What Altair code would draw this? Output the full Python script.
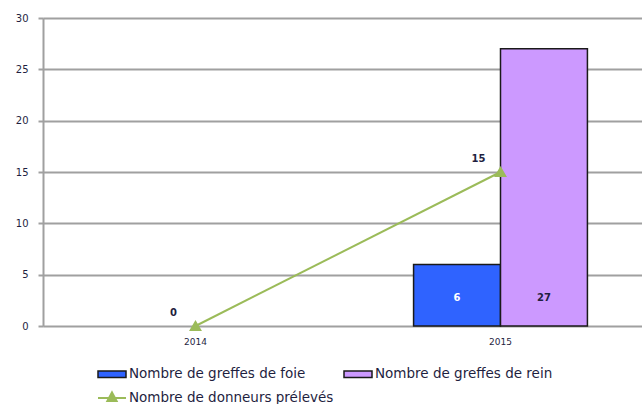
import altair as alt
import pandas as pd

years = ["2014", "2015"]
serie_foie = "Nombre de greffes de foie"
serie_rein = "Nombre de greffes de rein"
serie_donneurs = "Nombre de donneurs prélevés"
foie = [None, 6]
rein = [None, 27]
donneurs = [0, 15]
y_ticks = [0, 5, 10, 15, 20, 25, 30]

c_foie = "#2F63FF"
c_rein = "#CC99FF"
c_line = "#9BBB59"
c_text = "#1F1F3F"
font = "DejaVu Sans"

rows = []
for i, yr in enumerate(years):
    if foie[i] is not None:
        rows.append({"year": yr, "serie": serie_foie, "value": foie[i], "base": 0})
    if rein[i] is not None:
        rows.append({"year": yr, "serie": serie_rein, "value": rein[i], "base": 0})
bars_df = pd.DataFrame(rows)
line_df = pd.DataFrame({"year": years, "serie": serie_donneurs, "value": donneurs})

x_scale = alt.Scale(domain=years, range=[0, 610], paddingInner=0.43, paddingOuter=0.215)
y_scale = alt.Scale(domain=[0, 30], nice=False)
x_axis = alt.Axis(title=None, labelFont=font, labelFontSize=9, labelColor=c_text, labelAngle=0,
                  domain=False, ticks=False, labelPadding=11, grid=False)
y_axis = alt.Axis(title=None, values=y_ticks, labelFont=font, labelFontSize=10,
                  labelColor=c_text, domainColor="#A0A0A0", domainWidth=2,
                  tickColor="#A0A0A0", tickWidth=2, tickSize=5, labelPadding=10,
                  gridColor="#A0A0A0", gridWidth=2, grid=True)

rect_path = "M-1,-0.23L1,-0.23L1,0.23L-1,0.23Z"
line_path = "M-1,0L1,0M0,-0.4L0.33,0.22L-0.33,0.22Z"
off = alt.Scale(domain=[serie_foie, serie_rein], paddingInner=0, paddingOuter=0)

bars = alt.Chart(bars_df).mark_bar(stroke="#1A1A1A", strokeWidth=1.5).encode(
    x=alt.X("year:N", scale=x_scale, axis=x_axis),
    xOffset=alt.XOffset("serie:N", scale=off),
    y=alt.Y("value:Q", scale=y_scale, axis=y_axis),
    fill=alt.Fill("serie:N", scale=alt.Scale(domain=[serie_foie, serie_rein], range=[c_foie, c_rein]),
                  legend=alt.Legend(title=None, orient="none", legendX=54, legendY=341,
                                    direction="horizontal", columns=2, columnPadding=35,
                                    symbolType=rect_path, symbolSize=784,
                                    symbolStrokeColor="#1A1A1A", symbolStrokeWidth=1.5,
                                    labelFont=font, labelFontSize=13.5, labelColor=c_text,
                                    labelOffset=2, labelLimit=400)),
)

bar_text = alt.Chart(bars_df).mark_text(font=font, fontSize=10, fontWeight="bold", dy=-28, baseline="middle").encode(
    x=alt.X("year:N", scale=x_scale),
    xOffset=alt.XOffset("serie:N", scale=off),
    y=alt.Y("base:Q", scale=y_scale),
    text="value:Q",
    color=alt.Color("serie:N", scale=alt.Scale(domain=[serie_foie, serie_rein], range=["white", c_text]), legend=None),
)

line = alt.Chart(line_df).mark_line(strokeWidth=2, point=alt.OverlayMarkDef(shape="triangle-up", size=90, filled=True, color=c_line)).encode(
    x=alt.X("year:N", scale=x_scale),
    y=alt.Y("value:Q", scale=y_scale),
    stroke=alt.Stroke("serie:N", scale=alt.Scale(domain=[serie_donneurs], range=[c_line]),
                      legend=alt.Legend(title=None, orient="none", legendX=54, legendY=365,
                                        symbolType=line_path, symbolSize=784,
                                        symbolFillColor=c_line, symbolStrokeColor=c_line,
                                        symbolStrokeWidth=2,
                                        labelFont=font, labelFontSize=13.5, labelColor=c_text,
                                        labelOffset=2, labelLimit=400)),
)

line_text = alt.Chart(line_df).mark_text(font=font, fontSize=10, fontWeight="bold", dx=-22, dy=-13, color=c_text).encode(
    x=alt.X("year:N", scale=x_scale),
    y=alt.Y("value:Q", scale=y_scale),
    text="value:Q",
)

chart = alt.layer(bars, bar_text, line, line_text).resolve_scale(color="independent").properties(
    width=599, height=308,
    autosize=alt.AutoSizeParams(type="none"),
    padding={"left": 43, "top": 18, "right": 0, "bottom": 78},
).configure_view(stroke=None).configure(background="white")

chart.save("out.html", embed_options={"renderer": "svg", "actions": False})
